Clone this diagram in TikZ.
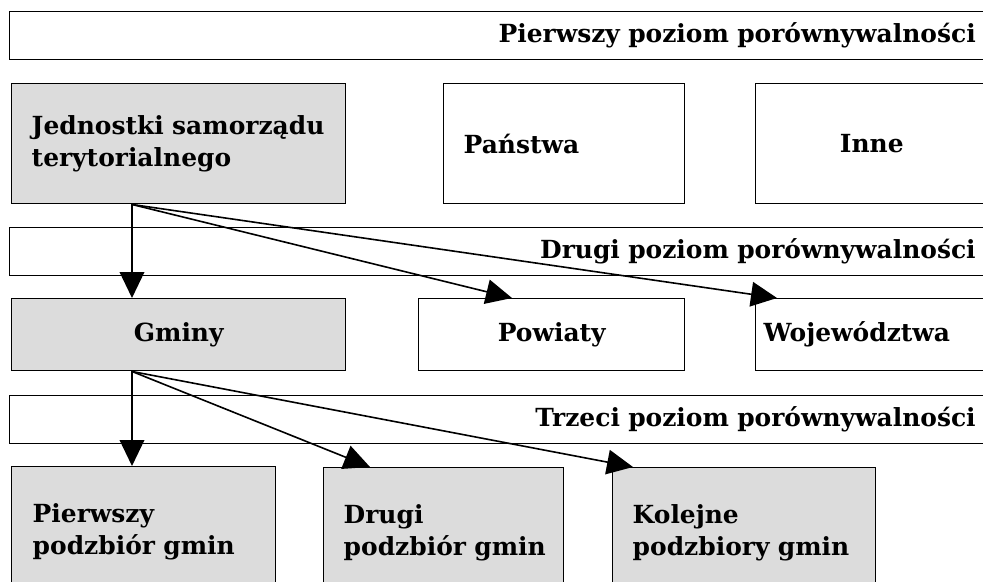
\documentclass[tikz,border=0pt]{standalone}
\usepackage{fontspec}
\setmainfont{DejaVu Serif}
\usetikzlibrary{arrows.meta, calc, positioning}
\definecolor{boxgray}{RGB}{220,220,220}

\begin{document}
\begin{tikzpicture}[x=0.75pt, y=-0.75pt, >={Triangle[length=19.5pt, width=18.5pt]},
  font=\fontsize{18.7pt}{23.5pt}\selectfont\bfseries,
  every node/.style={draw, line width=1.1pt, anchor=north west, inner ysep=0pt},
  bar/.style={minimum height=36pt, text width=713.25pt, inner xsep=11.25pt, align=right},
  grey/.style={fill=boxgray}]

\useasboundingbox (0,0) rectangle (983,582);
\clip (0,0) rectangle (983,582);

% pierwszy poziom
\node[bar] (lvl-1) at (9,11) {Pierwszy poziom porównywalności};
\node[grey, minimum height=90pt, text width=220.5pt, inner xsep=15pt, align=left] (jst) at (11,83) {\mbox{Jednostki samorządu}\\terytorialnego};
\node[minimum height=90pt, text width=150.75pt, inner xsep=15pt, align=left] (pan) at (443,83) {Państwa};
\node[minimum height=90pt, minimum width=174pt] (inne) at (755,83) {Inne};

% drugi poziom
\node[bar] (lvl-2) at (9,227) {Drugi poziom porównywalności};
\node[grey, minimum height=54pt, minimum width=250.5pt] (gmi) at (11,298) {Gminy};
\node[minimum height=54pt, minimum width=199.5pt] (pow) at (418,298) {Powiaty};
\node[minimum height=54pt, text width=165pt, inner xsep=6pt, align=left] (woj) at (755,298) {\mbox{Województwa}};

% trzeci poziom
\node[bar] (lvl-3) at (9,395) {Trzeci poziom porównywalności};
\node[grey, minimum height=97.5pt, text width=166.5pt, inner xsep=15.75pt, align=left] (sub-1) at (11,466) {Pierwszy\\\mbox{podzbiór gmin}};
\node[grey, minimum height=97.5pt, text width=150pt, inner xsep=15pt, align=left] (sub-2) at (323,467) {Drugi\\\mbox{podzbiór gmin}};
\node[grey, minimum height=97.5pt, text width=167.25pt, inner xsep=15pt, align=left] (sub-3) at (612,467) {Kolejne\\\mbox{podzbiory gmin}};

\coordinate (jst-out) at ($(jst.south west)+(121,0)$);
\coordinate (gmi-out) at ($(gmi.south west)+(121,0)$);

\draw[->, line width=1.2pt] (jst-out) -- ($(gmi.north west)+(121,0)$);
\draw[->, line width=1.2pt] (jst-out) -- ($(pow.north west)+(94,0)$);
\draw[->, line width=1.2pt] (jst-out) -- ($(woj.north west)+(22,0)$);

\draw[->, line width=1.2pt] (gmi-out) -- ($(sub-1.north west)+(121,0)$);
\draw[->, line width=1.2pt] (gmi-out) -- ($(sub-2.north west)+(47,0)$);
\draw[->, line width=1.2pt] (gmi-out) -- ($(sub-3.north west)+(21,0)$);

\end{tikzpicture}
\end{document}
